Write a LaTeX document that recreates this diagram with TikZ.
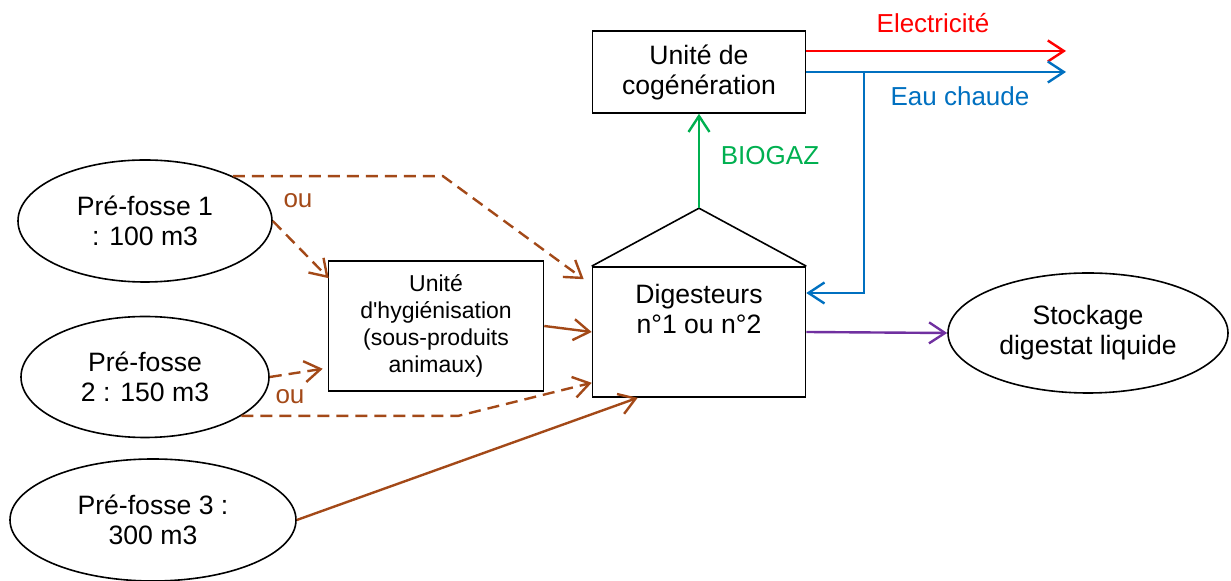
\documentclass[tikz,border=0pt]{standalone}
\usepackage{fontspec}
\setmainfont{Liberation Sans}
\usetikzlibrary{arrows.meta,shapes.geometric}

\definecolor{brun}{RGB}{163,73,24}
\definecolor{bleu}{RGB}{0,112,192}
\definecolor{vert}{RGB}{0,176,80}
\definecolor{violet}{RGB}{112,48,160}

\begin{document}
\begin{tikzpicture}[x=0.5pt, y=-0.5pt,
    every node/.style={font=\fontsize{13.3}{15}\selectfont, align=center, inner sep=0pt},
    fosse/.style={ellipse, draw, line width=0.8pt},
    boite/.style={rectangle, draw, line width=0.8pt},
    fleche/.style={line width=1.2pt, -{Straight Barb[length=8pt,width=10.5pt]}},
    brun tiret/.style={fleche, brun, dash pattern=on 6pt off 3.5pt},
    brun plein/.style={fleche, brun},
    etiquette/.style={font=\fontsize{13}{15}\selectfont}]

    % --- cadre de la figure ---
    \useasboundingbox (0,0) rectangle (1231,581);

    % --- pré-fosses ---
    \node[fosse, minimum width=127pt, minimum height=61pt] (pre1) at (145,221) {Pré-fosse 1\\: 100 m3};
    \node[fosse, minimum width=124pt, minimum height=60.5pt] (pre2) at (145,377) {Pré-fosse\\2 : 150 m3};
    \node[fosse, minimum width=143pt, minimum height=61pt] (pre3) at (153,520) {Pré-fosse 3 :\\300 m3};

    % --- unités de traitement ---
    \node[boite, minimum width=107.5pt, minimum height=65pt, font=\fontsize{11.5}{13.5}\selectfont] (hyg) at (436,326)
        {Unité\\d\textquotesingle hygiénisation\\(sous-produits\\animaux)};

    % digesteur : boîte + toit, texte en haut de la boîte
    \node[boite, minimum width=106.5pt, minimum height=65pt] (dig) at (699,332) {};
    \node (dig-txt) at ([yshift=-21.5pt]dig.north) {Digesteurs\\n°1 ou n°2};
    \coordinate (toit) at ([yshift=29pt]dig.north);
    \draw[line width=0.8pt] (dig.north west) -- (toit) -- (dig.north east);

    \node[boite, minimum width=106.5pt, minimum height=41pt] (cogen) at (699,72) {Unité de\\cogénération};
    \node[fosse, minimum width=140pt, minimum height=60pt] (stock) at (1088,333) {Stockage\\digestat liquide};

    % --- apports (brun) ---
    \coordinate (coude1) at (443,175);
    \coordinate (coude2) at (458,417);
    \draw[brun tiret] (pre1.27) -- (coude1 |- pre1.27) -- ([shift={(-4pt,-6.5pt)}]dig.north west);
    \draw[brun tiret] (pre1.east) -- ([shift={(0.5pt,-9pt)}]hyg.north west);
    \draw[brun tiret] (pre2.east) -- ([shift={(-2.5pt,11.5pt)}]hyg.south west);
    \draw[brun tiret] (pre2.-22) -- (coude2 |- pre2.-22) -- ([yshift=7.5pt]dig.south west);
    \draw[brun plein] (hyg.east) -- (dig.west);
    \draw[brun plein] (pre3.east) -- ([xshift=23pt]dig.south west);
    \node[etiquette, brun] (ou1) at (298,201) {ou};
    \node[etiquette, brun] (ou2) at (290,397) {ou};

    % --- biogaz vers la cogénération ---
    \draw[fleche, vert] (toit) -- (cogen.south);
    \node[etiquette, vert] (biogaz) at (770,156) {BIOGAZ};

    % --- sorties de la cogénération ---
    \coordinate (elec) at (1066,51);
    \coordinate (chaud) at (1066,72);
    \coordinate (branche) at (864,72);
    \draw[fleche, red] ([yshift=10.5pt]cogen.east) -- (elec);
    \draw[fleche, bleu] (cogen.east) -- (chaud);
    \draw[fleche, bleu] (branche) |- ([yshift=19.5pt]dig.east);
    \node[etiquette, red] (elec-txt) at (933,23) {Electricité};
    \node[etiquette, bleu] (chaud-txt) at (960,96) {Eau chaude};

    % --- digestat ---
    \draw[fleche, violet] (dig.east) -- (stock.west);

\end{tikzpicture}
\end{document}
